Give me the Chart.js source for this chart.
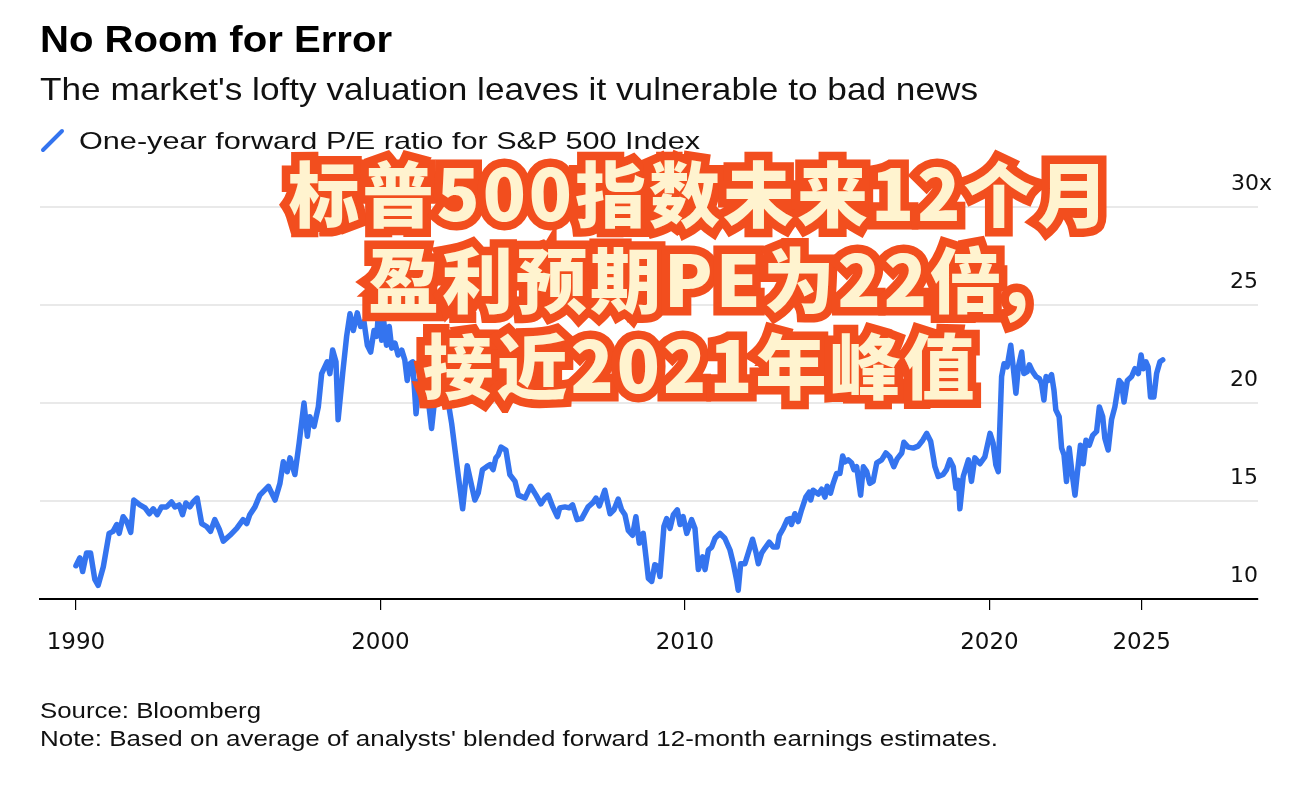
<!DOCTYPE html>
<html lang="en">
  <head>
    <meta charset="UTF-8" />
    <title>No Room for Error</title>
    <script src="https://cdn.jsdelivr.net/npm/chart.js@4.4.1/dist/chart.umd.min.js"></script>
    <style>
      body {
        margin: 0;
        width: 1312px;
        height: 790px;
        background: #ffffff;
        position: relative;
        overflow: hidden;
        font-family: "Liberation Sans", Arial, sans-serif;
        color: #111;
      }

      #chart {
        position: absolute;
        left: 0;
        top: 0;
      }

      .txt {
        position: absolute;
        left: 40px;
        white-space: nowrap;
        transform-origin: left top;
      }

      .title {
        top: 21px;
        font-size: 37px;
        line-height: 37px;
        font-weight: bold;
        color: #000;
      }

      .subtitle {
        top: 73px;
        font-size: 32px;
        line-height: 32px;
      }

      .legend-icon {
        position: absolute;
        left: 40px;
        top: 127px;
      }

      .legend {
        left: 79px;
        top: 129px;
        font-size: 24px;
        line-height: 24px;
      }

      .source {
        top: 700px;
        font-size: 22px;
        line-height: 22px;
      }

      .note {
        top: 728px;
        font-size: 22px;
        line-height: 22px;
      }

      /* big caption on top of the chart */
      .callout {
        position: absolute;
        left: 0;
        width: 1400px;
        top: 147px;
        text-align: center;
        font-family: "Noto Sans CJK SC", sans-serif;
        font-weight: 900;
        font-size: 71px;
        line-height: 86px;
        letter-spacing: 3px;
        white-space: nowrap;
      }
      .callout.outline {
        color: #f24e1e;
        -webkit-text-stroke: 17px #f24e1e;
      }
      .callout.inner {
        color: #fff3cf;
      }
    </style>
  </head>
  <body>
    <canvas id="chart" width="1312" height="790"></canvas>

    <div class="txt title" data-w="352">No Room for Error</div>
    <div class="txt subtitle" data-w="938">
      The market's lofty valuation leaves it vulnerable to bad news
    </div>
    <svg class="legend-icon" width="28" height="28">
      <line x1="3" y1="23" x2="22" y2="4" stroke="#3474ef" stroke-width="4" stroke-linecap="round" />
    </svg>
    <div class="txt legend" data-w="621">One-year forward P/E ratio for S&amp;P 500 Index</div>

    <div class="txt source" data-w="221">Source: Bloomberg</div>
    <div class="txt note" data-w="958">
      Note: Based on average of analysts' blended forward 12-month earnings estimates.
    </div>

    <div class="callout outline">标普500指数未来12个月<br />盈利预期PE为22倍,<br />接近2021年峰值</div>
    <div class="callout inner">标普500指数未来12个月<br />盈利预期PE为22倍,<br />接近2021年峰值</div>

    <script>
      // forward P/E (decimal years)
      const years = [
        1990.0, 1990.13, 1990.22, 1990.35, 1990.48, 1990.62, 1990.73, 1990.9,
        1991.09, 1991.22, 1991.34, 1991.42, 1991.55, 1991.67, 1991.8, 1991.9,
        1992.1, 1992.27, 1992.41, 1992.54, 1992.67, 1992.81, 1992.98,
        1993.14, 1993.25, 1993.39, 1993.5, 1993.61, 1993.74, 1993.85, 1993.98,
        1994.13, 1994.29, 1994.42, 1994.56, 1994.71, 1994.84,
        1995.06, 1995.28, 1995.49, 1995.61, 1995.71, 1995.88,
        1996.04, 1996.32, 1996.54, 1996.7, 1996.81, 1996.94,
        1997.03, 1997.19, 1997.33, 1997.49, 1997.6, 1997.68, 1997.82, 1997.96,
        1998.07, 1998.25, 1998.34, 1998.43, 1998.54, 1998.61, 1998.76, 1998.89,
        1999.0, 1999.11, 1999.24, 1999.35, 1999.46, 1999.57, 1999.68, 1999.79, 1999.88, 1999.96,
        2000.04, 2000.11, 2000.2, 2000.29, 2000.37, 2000.48, 2000.58, 2000.7, 2000.8, 2000.88, 2000.97,
        2001.06, 2001.17, 2001.27, 2001.39, 2001.52, 2001.68, 2001.79, 2001.9,
        2002.06, 2002.23, 2002.34, 2002.45, 2002.56, 2002.7, 2002.85,
        2003.0, 2003.1, 2003.21, 2003.35, 2003.49, 2003.6, 2003.7, 2003.79, 2003.87, 2003.96,
        2004.12, 2004.25, 2004.42, 2004.53, 2004.75, 2004.93,
        2005.11, 2005.27, 2005.4, 2005.51, 2005.66, 2005.81, 2005.89,
        2006.06, 2006.2, 2006.31, 2006.46, 2006.61, 2006.82, 2006.97,
        2007.08, 2007.19, 2007.37, 2007.54, 2007.67, 2007.81, 2007.92,
        2008.03, 2008.14, 2008.28, 2008.39, 2008.5, 2008.63, 2008.72, 2008.8, 2008.91,
        2009.01, 2009.12, 2009.18, 2009.31, 2009.4, 2009.51, 2009.62, 2009.75, 2009.84, 2009.94,
        2010.06, 2010.22, 2010.33, 2010.44, 2010.58, 2010.66, 2010.77, 2010.88, 2010.99,
        2011.15, 2011.31, 2011.48, 2011.59, 2011.7, 2011.75, 2011.83, 2011.97,
        2012.11, 2012.22, 2012.33, 2012.41, 2012.52, 2012.63, 2012.77, 2012.9,
        2013.03, 2013.1, 2013.23, 2013.36, 2013.45, 2013.5, 2013.61, 2013.72, 2013.83, 2013.97,
        2014.08, 2014.13, 2014.21, 2014.38, 2014.49, 2014.6, 2014.67, 2014.78, 2014.87, 2014.98,
        2015.09, 2015.18, 2015.25, 2015.36, 2015.47, 2015.55, 2015.64, 2015.77, 2015.86, 2015.97,
        2016.07, 2016.18, 2016.3, 2016.46, 2016.6, 2016.73, 2016.86, 2016.97,
        2017.12, 2017.19, 2017.33, 2017.5, 2017.66, 2017.81, 2017.94,
        2018.07, 2018.21, 2018.32, 2018.48, 2018.59, 2018.7, 2018.81, 2018.9, 2018.98,
        2019.03, 2019.14, 2019.31, 2019.41, 2019.52, 2019.69, 2019.85,
        2020.02, 2020.12, 2020.21, 2020.29, 2020.4, 2020.48, 2020.58, 2020.7, 2020.78, 2020.87, 2020.95,
        2021.06, 2021.13, 2021.24, 2021.31, 2021.42, 2021.53, 2021.64, 2021.71, 2021.79, 2021.86, 2021.93,
        2022.04, 2022.12, 2022.18, 2022.29, 2022.37, 2022.45, 2022.53, 2022.62, 2022.7, 2022.81, 2022.92, 2022.99,
        2023.08, 2023.17, 2023.28, 2023.39, 2023.52, 2023.61, 2023.72, 2023.79, 2023.9,
        2024.01, 2024.12, 2024.26, 2024.34, 2024.42, 2024.53, 2024.67, 2024.78, 2024.89, 2024.98,
        2025.05, 2025.14, 2025.21, 2025.29, 2025.4, 2025.49, 2025.6, 2025.69,
      ];
      const pe = [
        11.7, 12.1, 11.4, 12.35, 12.35, 11.0, 10.7, 11.65,
        13.35, 13.45, 13.8, 13.35, 14.2, 13.95, 13.4, 15.05,
        14.8, 14.65, 14.35, 14.6, 14.3, 14.7, 14.7,
        14.95, 14.7, 14.8, 14.3, 14.9, 14.7, 14.95, 15.15,
        13.85, 13.7, 13.45, 14.05, 13.55, 12.95,
        13.25, 13.6, 14.05, 13.85, 14.3, 14.7,
        15.3, 15.75, 15.05, 15.9, 17.0, 16.5,
        17.2, 16.35, 17.95, 20.0, 18.3, 19.3, 18.8, 19.8,
        21.5, 22.1, 21.5, 22.7, 22.1, 19.15, 21.5, 23.4,
        24.55, 23.7, 24.6, 23.9, 24.15, 22.95, 22.6, 23.7, 23.4, 25.2,
        23.2, 24.15, 22.95, 23.9, 22.8, 23.05, 22.45, 22.7, 22.2, 21.15, 22.0,
        22.1, 19.45, 21.15, 21.35, 20.85, 18.7, 20.3, 20.9,
        20.3, 20.0, 18.95, 17.6, 16.25, 14.6, 16.8,
        15.75, 15.05, 15.4, 16.6, 16.75, 16.85, 16.6, 17.2, 17.35, 17.75,
        17.6, 16.35, 16.0, 15.3, 15.15, 15.75,
        15.3, 14.85, 15.15, 15.3, 14.7, 14.2, 14.65,
        14.7, 14.65, 14.8, 14.05, 14.1, 14.7, 14.9,
        15.15, 14.75, 15.55, 14.35, 14.55, 15.1, 14.55,
        14.3, 13.5, 13.25, 14.2, 12.85, 13.35, 12.15, 11.05, 10.9,
        11.75, 11.65, 11.15, 13.7, 14.1, 13.6, 14.3, 14.55, 13.8, 14.2,
        13.35, 14.05, 13.6, 11.5, 12.15, 11.5, 12.5, 12.65, 13.1,
        13.35, 13.1, 12.5, 11.8, 10.95, 10.45, 11.8, 11.8,
        12.5, 13.05, 12.4, 11.8, 12.35, 12.6, 12.9, 12.65,
        12.65, 13.25, 13.6, 14.05, 14.1, 13.8, 14.35, 13.95, 14.55, 15.2,
        15.45, 15.05, 15.55, 15.35, 15.6, 15.2, 15.75, 15.4, 15.9, 16.4,
        16.4, 17.3, 17.0, 17.1, 16.95, 16.6, 16.75, 15.3, 16.75, 16.5,
        15.9, 16.0, 16.95, 17.1, 17.45, 17.25, 16.75, 17.15,
        17.45, 18.0, 17.75, 17.7, 17.8, 18.1, 18.45,
        18.05, 16.75, 16.25, 16.35, 16.6, 17.1, 16.75, 15.65, 16.05,
        14.6, 16.25, 17.1, 16.0, 17.2, 16.9, 17.25,
        18.45, 17.95, 16.85, 16.5, 21.35, 22.0, 21.85, 22.95, 21.85, 20.5, 21.85,
        22.6, 21.5, 21.6, 21.95, 21.6, 21.35, 21.25, 21.0, 20.15, 21.35, 21.15,
        21.45, 20.65, 19.65, 19.3, 17.7, 17.35, 16.0, 17.7, 16.6, 15.3, 16.9, 17.85,
        16.9, 18.1, 17.85, 18.35, 18.55, 19.8, 19.3, 18.2, 17.6,
        19.15, 19.8, 21.15, 21.0, 20.05, 21.15, 21.35, 21.75, 21.5, 22.45,
        21.75, 22.1, 21.85, 20.3, 20.3, 21.5, 22.1, 22.2,
      ];
      const xTicks = [1990, 2000, 2010, 2020, 2025];
      const yTicks = [10, 15, 20, 25, 30];

      // stretch the html texts to the widths seen in the original
      document.querySelectorAll("[data-w]").forEach((el) => {
        el.textContent = el.textContent.trim();
        const w = el.getBoundingClientRect().width;
        el.style.transform = `scaleX(${el.dataset.w / w})`;
      });

      const ctx = document.getElementById("chart").getContext("2d");
      const tickFont = { family: "DejaVu Sans", size: 22 };

      new Chart(ctx, {
        type: "line",
        data: {
          datasets: [
            {
              data: years.map((x, i) => ({ x: x, y: pe[i] })),
              borderColor: "#3474ef",
              borderWidth: 5.5,
              borderJoinStyle: "round",
              borderCapStyle: "round",
              pointRadius: 0,
              tension: 0,
              fill: false,
            },
          ],
        },
        options: {
          responsive: false,
          animation: false,
          layout: { padding: { left: 40, right: 54, top: 207, bottom: 131 } },
          plugins: {
            legend: { display: false },
            tooltip: { enabled: false },
          },
          scales: {
            x: {
              type: "linear",
              min: 1988.82,
              max: 2028.82,
              afterBuildTicks: (scale) => {
                scale.ticks = xTicks.map((v) => ({ value: v }));
              },
              afterFit: (scale) => {
                scale.height = 60;
              },
              grid: {
                drawOnChartArea: false,
                drawTicks: true,
                tickLength: 11,
                color: "#000",
                lineWidth: 1.2,
              },
              border: { display: true, color: "#000", width: 2 },
              ticks: {
                autoSkip: false,
                maxRotation: 0,
                padding: 19,
                color: "#111",
                font: { family: "DejaVu Sans", size: 23 },
                callback: (v) => String(v),
              },
            },
            y: {
              position: "right",
              min: 10,
              max: 30,
              afterBuildTicks: (scale) => {
                scale.ticks = yTicks.map((v) => ({ value: v }));
              },
              afterFit: (scale) => {
                scale.width = 0;
              },
              grid: {
                drawTicks: false,
                lineWidth: 2,
                // bottom line is the black axis, don't paint grey over it
                color: (c) => (c.tick && c.tick.value === 10 ? "rgba(0,0,0,0)" : "#e9e9e9"),
              },
              border: { display: false },
              ticks: {
                mirror: true,
                padding: 14,
                labelOffset: -23,
                color: "#111",
                font: tickFont,
                // figure space keeps the numbers lined up under "30x"
                callback: (v) => (v === 30 ? "30x" : v + "\u2007"),
              },
            },
          },
        },
      });
    </script>
  </body>
</html>
